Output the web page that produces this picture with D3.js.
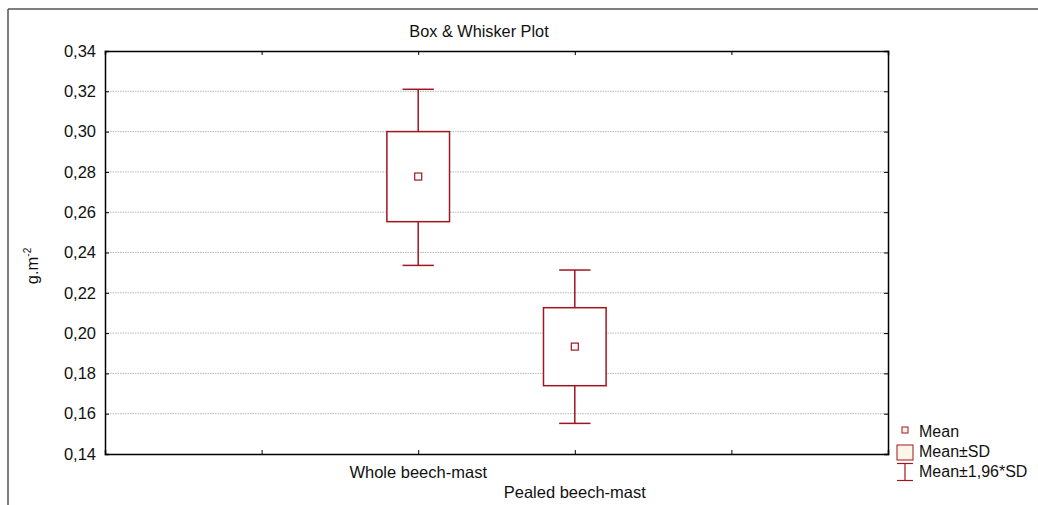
<!DOCTYPE html>
<html>
<head>
<meta charset="utf-8">
<script src="https://cdn.jsdelivr.net/npm/d3@7"></script>
<style>
  html, body { margin: 0; padding: 0; background: #fff; }
  svg { display: block; font-family: "Liberation Sans", Arial, sans-serif; }
</style>
</head>
<body>
<svg id="chart" width="1038" height="505"></svg>
<script>
// ---- data ----
const categories = ["Whole beech-mast", "Pealed beech-mast"];
const means = [0.2777, 0.1933];
const sdLow = [0.2553, 0.1739];
const sdHigh = [0.3000, 0.2126];
const ciLow = [0.2336, 0.1552];
const ciHigh = [0.3210, 0.2313];
const yTicks = [0.14, 0.16, 0.18, 0.20, 0.22, 0.24, 0.26, 0.28, 0.30, 0.32, 0.34];
const legendLabels = ["Mean", "Mean\u00B1SD", "Mean\u00B11,96*SD"];
const title = "Box & Whisker Plot";

// ---- layout ----
const svg = d3.select("#chart");
const plot = { left: 105, right: 888, top: 51, bottom: 454 };
const red = "#a0161f";
const fontSize = 16.5;

const x = d3.scaleLinear().domain([-2, 3]).range([plot.left, plot.right]);
const y = d3.scaleLinear().domain([0.14, 0.34]).range([plot.bottom, plot.top]);
const step = x(1) - x(0);
const fmt = d => d3.format(".2f")(d).replace(".", ",");

// outer frame
svg.append("line").attr("x1", 8).attr("x2", 1038).attr("y1", 9).attr("y2", 9)
  .attr("stroke", "#555").attr("stroke-width", 1.5);
svg.append("line").attr("x1", 8).attr("x2", 8).attr("y1", 9).attr("y2", 505)
  .attr("stroke", "#555").attr("stroke-width", 1.5);

// gridlines
svg.append("g").selectAll("line").data(yTicks.slice(1, -1)).join("line")
  .attr("x1", plot.left).attr("x2", plot.right)
  .attr("y1", d => y(d)).attr("y2", d => y(d))
  .attr("stroke", "#b8b8b8").attr("stroke-width", 1).attr("stroke-dasharray", "1.5,1");

// axes
const xTickVals = [-1, 0, 1, 2];
const gL = svg.append("g").attr("transform", `translate(${plot.left},0)`)
  .call(d3.axisLeft(y).tickValues(yTicks).tickFormat(fmt).tickSize(-4).tickPadding(9));
const gR = svg.append("g").attr("transform", `translate(${plot.right},0)`)
  .call(d3.axisRight(y).tickValues(yTicks).tickFormat("").tickSize(-4));
const gB = svg.append("g").attr("transform", `translate(0,${plot.bottom})`)
  .call(d3.axisBottom(x).tickValues(xTickVals).tickFormat("").tickSize(-4));
const gT = svg.append("g").attr("transform", `translate(0,${plot.top})`)
  .call(d3.axisTop(x).tickValues(xTickVals).tickFormat("").tickSize(-4));
[gL, gR, gB, gT].forEach(g => {
  g.select(".domain").attr("stroke", "#000").attr("stroke-width", 1.5);
  g.selectAll(".tick line").attr("stroke", "#000").attr("stroke-width", 1);
});
gL.selectAll(".tick text").attr("font-size", fontSize).attr("fill", "#111")
  .attr("font-family", "Liberation Sans, Arial, sans-serif");

// category labels (staggered)
svg.append("g").selectAll("text").data(categories).join("text")
  .attr("x", (d, i) => x(i))
  .attr("y", (d, i) => 478 + i * 20)
  .attr("text-anchor", "middle").attr("font-size", fontSize).attr("fill", "#111")
  .text(d => d);

// title
svg.append("text").attr("x", 479).attr("y", 37).attr("text-anchor", "middle")
  .attr("font-size", 16.3).attr("fill", "#111").text(title);

// y label
const yl = svg.append("text").attr("transform", "translate(38,266) rotate(-90)")
  .attr("text-anchor", "middle").attr("font-size", fontSize).attr("fill", "#111");
yl.append("tspan").text("g.m");
yl.append("tspan").attr("font-size", 10).attr("dy", -7).text("-2");

// boxes
const boxW = step * 0.4, capW = step * 0.2, meanS = 7;
const gBox = svg.append("g");
categories.forEach((c, i) => {
  const cx = x(i);
  // whiskers
  gBox.append("line").attr("x1", cx).attr("x2", cx).attr("y1", y(ciHigh[i])).attr("y2", y(sdHigh[i]))
    .attr("stroke", red).attr("stroke-width", 1.5);
  gBox.append("line").attr("x1", cx).attr("x2", cx).attr("y1", y(sdLow[i])).attr("y2", y(ciLow[i]))
    .attr("stroke", red).attr("stroke-width", 1.5);
  gBox.append("line").attr("x1", cx - capW / 2).attr("x2", cx + capW / 2)
    .attr("y1", y(ciHigh[i])).attr("y2", y(ciHigh[i])).attr("stroke", red).attr("stroke-width", 1.5);
  gBox.append("line").attr("x1", cx - capW / 2).attr("x2", cx + capW / 2)
    .attr("y1", y(ciLow[i])).attr("y2", y(ciLow[i])).attr("stroke", red).attr("stroke-width", 1.5);
  // box
  gBox.append("rect").attr("x", cx - boxW / 2).attr("width", boxW)
    .attr("y", y(sdHigh[i])).attr("height", y(sdLow[i]) - y(sdHigh[i]))
    .attr("fill", "#fff").attr("stroke", red).attr("stroke-width", 1.5);
  // mean
  gBox.append("rect").attr("x", cx - meanS / 2).attr("y", y(means[i]) - meanS / 2)
    .attr("width", meanS).attr("height", meanS)
    .attr("fill", "#fff").attr("stroke", red).attr("stroke-width", 1.2);
});

// legend
const lg = svg.append("g");
const lx = 905;
lg.append("rect").attr("x", lx - 3).attr("y", 427).attr("width", 6).attr("height", 6)
  .attr("fill", "#fdf6e8").attr("stroke", red).attr("stroke-width", 1);
lg.append("rect").attr("x", lx - 8).attr("y", 445).attr("width", 16).attr("height", 15)
  .attr("fill", "#fdf6e8").attr("stroke", red).attr("stroke-width", 1);
lg.append("line").attr("x1", lx - 8).attr("x2", lx + 8).attr("y1", 463.5).attr("y2", 463.5)
  .attr("stroke", red).attr("stroke-width", 1.2);
lg.append("line").attr("x1", lx - 8).attr("x2", lx + 8).attr("y1", 480.5).attr("y2", 480.5)
  .attr("stroke", red).attr("stroke-width", 1.2);
lg.append("line").attr("x1", lx).attr("x2", lx).attr("y1", 463.5).attr("y2", 480.5)
  .attr("stroke", red).attr("stroke-width", 1.2);
lg.selectAll("text").data(legendLabels).join("text")
  .attr("x", 919).attr("y", (d, i) => 437 + i * 20)
  .attr("font-size", 16).attr("fill", "#111").text(d => d);
</script>
</body>
</html>
